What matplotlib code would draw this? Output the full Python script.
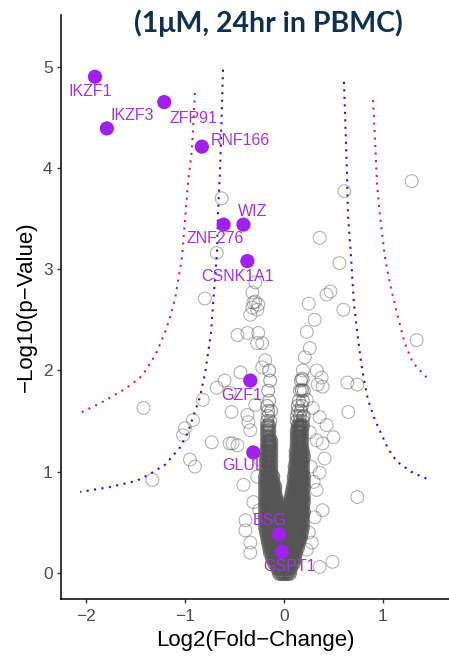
import numpy as np
import matplotlib
matplotlib.use("Agg")
import matplotlib.pyplot as plt

# ---- highlighted proteins (Log2 FC, -Log10 p) ----
hit_names = ["IKZF1", "IKZF3", "ZFP91", "RNF166", "ZNF276", "WIZ",
             "CSNK1A1", "GZF1", "GLUL", "BSG", "GSPT1"]
hit_x = [-1.91, -1.79, -1.21, -0.83, -0.61, -0.41, -0.37, -0.34, -0.31, -0.05, -0.02]
hit_y = [4.90, 4.39, 4.65, 4.21, 3.44, 3.44, 3.08, 1.90, 1.19, 0.38, 0.21]
# label anchor points (text centre) and alignment
label_x = [-1.96, -1.75, -0.91, -0.44, -0.70, -0.32, -0.47, -0.43, -0.41, -0.14, 0.06]
label_y = [4.75, 4.52, 4.49, 4.27, 3.30, 3.57, 2.93, 1.75, 1.06, 0.52, 0.06]
label_ha = ["center", "left", "center", "center", "center", "center",
            "center", "center", "center", "center", "center"]

# ---- other proteins, scattered away from the dense core ----
other_x = [-0.63, -0.68, -0.80, -0.29, -0.32, -0.29, -0.32,
           1.29, 0.61, 0.36, 0.56, 0.47, 0.43, 0.25, 0.60,
           0.31, 0.23, 1.34, 0.26, 0.21, 0.19, 0.33, 0.38, 0.18, 0.64, 0.74,
           0.34, 0.39, 0.18, 0.23, 0.29, 0.19, 0.36, 0.26, 0.33, 0.39,
           0.65, 0.43, 0.50, 0.74, 0.49,
           -0.47, -0.34, -0.27, -0.26, -0.31, -0.37, -0.26, -0.27, -0.22, -0.19, -0.22,
           -0.60, -0.44, -0.68, -0.55, -0.53, -0.37, -0.82, -0.92, -1.00, -1.02,
           -0.73, -0.52, -0.95, -0.90, -1.33, -1.42, -0.36, -0.34,
           -0.39, -0.39, -0.34, -0.34, -0.41, -0.31, -0.55, -0.47,
           0.41, 0.36, 0.33, 0.39, 0.31, 0.36, 0.23, 0.19, 0.18,
           0.27, 0.30, 0.25, -0.27, -0.25, -0.29, 0.28, -0.24]
other_y = [3.70, 3.16, 2.71, 2.87, 2.77, 2.68, 2.62,
           3.87, 3.77, 3.31, 3.06, 2.78, 2.75, 2.66, 2.60,
           2.50, 2.38, 2.30, 2.22, 2.13, 2.00, 2.00, 1.93, 1.92, 1.88, 1.86,
           1.86, 1.84, 1.80, 1.71, 1.63, 1.54, 1.54, 1.39, 1.31, 1.28,
           1.59, 1.46, 1.34, 0.75, 0.11,
           2.35, 2.55, 2.60, 2.65, 2.67, 2.37, 2.37, 2.27, 2.27, 2.10, 2.03,
           1.90, 1.98, 1.83, 1.78, 1.59, 1.56, 1.71, 1.51, 1.43, 1.36,
           1.29, 1.28, 1.12, 1.05, 0.92, 1.63, 1.49, 1.41,
           0.52, 0.42, 0.30, 0.20, 0.87, 0.70, 1.28, 1.26,
           1.13, 0.99, 0.82, 0.62, 0.55, 0.06, 0.23, 1.91, 1.81,
           1.05, 0.90, 0.40, 0.95, 0.62, 1.66, 0.30, 1.12]

# ---- dense V-shaped core, one row per -Log10 p level ----
core_levels = [0.00, 0.05, 0.10, 0.15, 0.20, 0.25, 0.30, 0.35, 0.40, 0.45,
               0.50, 0.55, 0.60, 0.65, 0.70, 0.75, 0.80, 0.85, 0.90, 0.95,
               1.00, 1.05, 1.10, 1.15, 1.20, 1.25, 1.30, 1.35, 1.40, 1.45,
               1.50, 1.55, 1.60, 1.65, 1.70, 1.80, 1.90, 2.00]
core_rows = [
    [-0.04, -0.01, 0.02, 0.05],
    [-0.06, -0.03, 0.00, 0.03, 0.06],
    [-0.09, -0.06, -0.03, 0.00, 0.03, 0.06, 0.09],
    [-0.11, -0.08, -0.05, -0.02, 0.01, 0.04, 0.07, 0.10],
    [-0.13, -0.10, -0.07, -0.04, -0.01, 0.02, 0.05, 0.08, 0.11],
    [-0.14, -0.11, -0.08, -0.05, -0.02, 0.01, 0.04, 0.07, 0.10, 0.13],
    [-0.15, -0.12, -0.09, -0.06, -0.03, 0.00, 0.03, 0.06, 0.09, 0.12, 0.14],
    [-0.16, -0.13, -0.10, -0.07, -0.04, -0.01, 0.02, 0.05, 0.08, 0.11, 0.14, 0.16],
    [-0.17, -0.14, -0.11, -0.08, -0.05, -0.02, 0.02, 0.05, 0.08, 0.11, 0.14, 0.17],
    [-0.18, -0.15, -0.12, -0.09, -0.06, -0.03, 0.03, 0.06, 0.09, 0.12, 0.15, 0.18],
    [-0.18, -0.15, -0.12, -0.09, -0.06, -0.03, 0.03, 0.06, 0.09, 0.12, 0.15, 0.18],
    [-0.18, -0.15, -0.12, -0.09, -0.06, -0.03, 0.03, 0.06, 0.09, 0.12, 0.15, 0.18],
    [-0.18, -0.15, -0.12, -0.09, -0.06, 0.05, 0.08, 0.11, 0.14, 0.17, 0.19],
    [-0.18, -0.15, -0.12, -0.09, -0.06, 0.06, 0.09, 0.12, 0.15, 0.18],
    [-0.18, -0.15, -0.12, -0.09, -0.07, 0.07, 0.10, 0.13, 0.16, 0.19],
    [-0.18, -0.15, -0.12, -0.09, 0.08, 0.11, 0.14, 0.17, 0.19],
    [-0.18, -0.15, -0.12, -0.10, 0.09, 0.12, 0.15, 0.18],
    [-0.18, -0.15, -0.12, -0.10, 0.10, 0.13, 0.16, 0.19],
    [-0.18, -0.15, -0.12, 0.11, 0.14, 0.17, 0.19],
    [-0.18, -0.15, -0.12, 0.11, 0.14, 0.17, 0.19],
    [-0.17, -0.14, 0.12, 0.15, 0.18],
    [-0.17, -0.14, 0.12, 0.15, 0.18],
    [-0.17, -0.14, 0.13, 0.16, 0.18],
    [-0.17, -0.14, 0.13, 0.16, 0.19],
    [-0.17, -0.14, 0.13, 0.16, 0.18],
    [-0.16, -0.14, 0.14, 0.17],
    [-0.16, -0.14, 0.14, 0.17],
    [-0.16, 0.14, 0.17],
    [-0.16, 0.14, 0.17],
    [-0.16, 0.15, 0.18],
    [-0.17, -0.14, 0.13, 0.16, 0.19],
    [-0.16, 0.13, 0.16, 0.20],
    [-0.16, -0.13, 0.14, 0.17],
    [-0.17, 0.14, 0.18],
    [-0.15, 0.15, 0.19],
    [-0.16, 0.16, 0.20],
    [-0.14, 0.17],
    [-0.15],
]

# ---- significance threshold curves ----
blue_left_x = [-0.616, -0.646, -0.667, -0.677, -0.717, -0.737, -0.768, -0.798, -0.848,
               -0.919, -0.970, -1.05, -1.20, -1.35, -1.49, -1.75, -2.06]
blue_left_y = [4.97, 3.98, 3.55, 3.16, 2.65, 2.37, 2.17, 1.97, 1.74,
               1.54, 1.39, 1.24, 1.07, 0.98, 0.91, 0.85, 0.80]
blue_right_x = [0.606, 0.636, 0.646, 0.677, 0.707, 0.747, 0.778, 0.808, 0.848,
                0.919, 1.05, 1.14, 1.30, 1.47]
blue_right_y = [4.85, 3.95, 3.55, 3.12, 2.65, 2.33, 2.08, 1.91, 1.71,
                1.51, 1.23, 1.10, 0.99, 0.92]
red_left_x = [-0.90, -0.93, -0.97, -1.03, -1.10, -1.15, -1.20, -1.30, -1.38,
              -1.43, -1.60, -1.85, -2.06]
red_left_y = [4.74, 4.18, 3.85, 3.12, 2.71, 2.53, 2.38, 2.15, 2.03,
              1.95, 1.82, 1.68, 1.58]
red_right_x = [0.90, 0.94, 0.97, 1.02, 1.07, 1.14, 1.22, 1.30, 1.47]
red_right_y = [4.67, 3.85, 3.52, 3.12, 2.86, 2.57, 2.27, 2.08, 1.90]

x_ticks = [-2, -1, 0, 1]
y_ticks = [0, 1, 2, 3, 4, 5]

PURPLE = "#A020F0"
PURPLE_TXT = "#A334E6"
W, H = 449, 656


def main():
    plt.rcParams["font.family"] = ["Liberation Sans", "DejaVu Sans"]
    fig = plt.figure(figsize=(W / 100, H / 100), dpi=100)
    ax = fig.add_axes([61 / W, 1 - 599 / H, (W - 61) / W, (599 - 15) / H])

    core_x = np.array([x for row in core_rows for x in row])
    core_y = np.array([lv for lv, row in zip(core_levels, core_rows) for _ in row])
    packed = core_y < 1.475

    # the packed core overlaps so heavily in the original that it reads as solid grey
    ax.scatter(core_x[packed], core_y[packed], s=80, facecolors="none",
               edgecolors="#555555", linewidths=2.8, alpha=0.7, zorder=2)
    ax.scatter(core_x[~packed], core_y[~packed], s=85, facecolors="none",
               edgecolors="#4a4a4a", linewidths=0.9, alpha=0.5, zorder=2)
    ax.scatter(other_x, other_y, s=85, facecolors="none", edgecolors="#4a4a4a",
               linewidths=0.8, alpha=0.42, zorder=2)

    dot = (0, (1, 2.6))
    ax.plot(blue_left_x, blue_left_y, color="#1a1adf", lw=1.5, ls=dot, zorder=3)
    ax.plot(blue_right_x, blue_right_y, color="#1a1adf", lw=1.5, ls=dot, zorder=3)
    ax.plot(red_left_x, red_left_y, color="#e6203a", lw=1.5, ls=dot, zorder=3)
    ax.plot(red_right_x, red_right_y, color="#e6203a", lw=1.5, ls=dot, zorder=3)

    ax.scatter(hit_x, hit_y, s=105, color=PURPLE, edgecolors="none", zorder=4)
    for name, lx, ly, ha in zip(hit_names, label_x, label_y, label_ha):
        ax.text(lx, ly, name, color=PURPLE_TXT, fontsize=11.5, ha=ha, va="center", zorder=5)

    ax.set_xlim(-2.253, 1.667)
    ax.set_ylim(-0.257, 5.51)
    ax.set_xticks(x_ticks)
    ax.set_yticks(y_ticks)
    ax.tick_params(axis="both", colors="#333333", labelcolor="#4D4D4D",
                   labelsize=12.5, length=3, width=1.0)
    ax.tick_params(axis="x", pad=4)
    ax.tick_params(axis="y", pad=3)
    for side in ["top", "right"]:
        ax.spines[side].set_visible(False)
    for side in ["left", "bottom"]:
        ax.spines[side].set_linewidth(1.1)
        ax.spines[side].set_color("black")

    ax.set_xlabel("Log2(Fold\u2212Change)", fontsize=16, color="black")
    ax.set_ylabel("\u2212Log10(p\u2212Value)", fontsize=16, color="black")
    ax.xaxis.set_label_coords(0.5, -0.053)
    ax.yaxis.set_label_coords(-0.062, 0.5)

    fig.text(268 / W, 1 - 23 / H, "(1\u03bcM, 24hr in PBMC)", fontsize=20.5,
             fontweight="bold", family=["Lato", "DejaVu Sans"], color="#10304d",
             ha="center", va="center")

    fig.savefig("out.png", dpi=100)


if __name__ == "__main__":
    main()
